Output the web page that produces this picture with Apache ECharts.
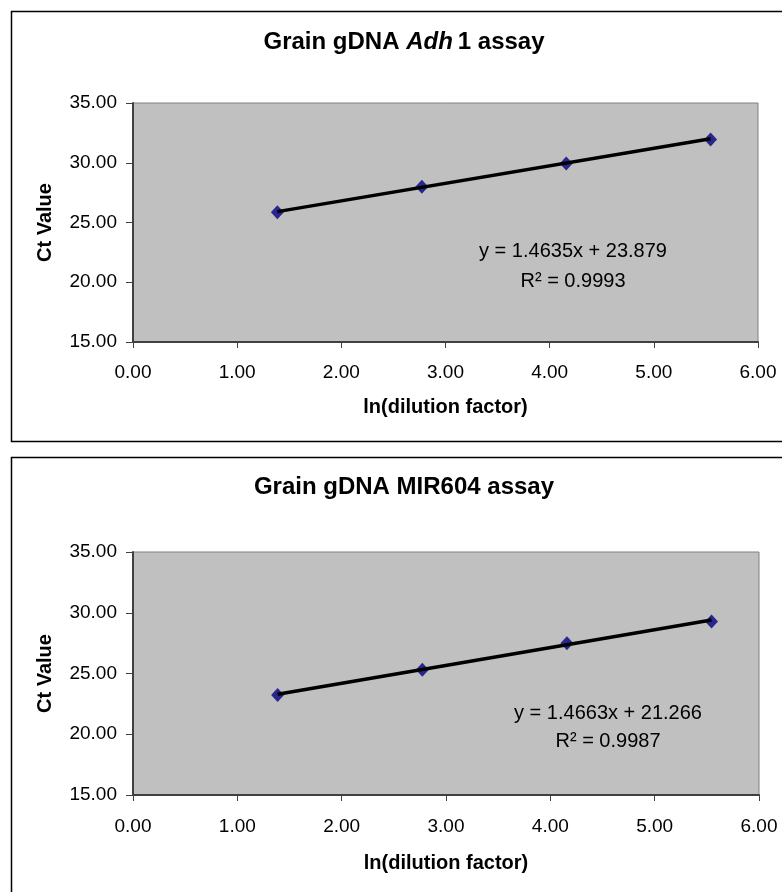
<!DOCTYPE html>
<html>
<head>
<meta charset="utf-8">
<script src="https://cdn.jsdelivr.net/npm/echarts@6/dist/echarts.min.js"></script>
<style>
  html, body { margin: 0; padding: 0; background: #fff; }
  #chart { width: 782px; height: 892px; }
</style>
</head>
<body>
<div id="chart"></div>
<script>
// ln(dilution factor) of the four dilutions
const dilutionX = [1.386, 2.773, 4.159, 5.545];
// Ct values
const adhCt = [25.85, 28.0, 29.93, 31.95];
const mirCt = [23.24, 25.3, 27.5, 29.29];
// trend line ends (first and last x)
const trendX = [1.386, 5.545];
const adhTrend = [25.91, 32.0];
const mirTrend = [23.3, 29.4];
// axis ticks
const xTicks = [0, 1, 2, 3, 4, 5, 6];
const yTicks = [15, 20, 25, 30, 35];
const titles = ["Grain gDNA ", "Grain gDNA MIR604 assay"];
const equations = [
  ["y = 1.4635x + 23.879", "R\u00b2 = 0.9993"],
  ["y = 1.4663x + 21.266", "R\u00b2 = 0.9987"]
];

const font = "Liberation Sans, Arial, sans-serif";
const myChart = echarts.init(document.getElementById("chart"));

function pairs(xs, ys) {
  return xs.map((x, i) => [x, ys[i]]);
}

function xAxisFor(idx, labelGap, nameGap) {
  return {
    gridIndex: idx,
    type: "value",
    min: xTicks[0],
    max: xTicks[xTicks.length - 1],
    interval: 1,
    name: "ln(dilution factor)",
    nameLocation: "middle",
    nameGap: nameGap,
    nameTextStyle: { fontFamily: font, fontSize: 20, fontWeight: "bold", color: "#000" },
    axisLine: { lineStyle: { color: "#404040", width: 2 } },
    axisTick: { show: true, inside: false, length: 6, lineStyle: { color: "#404040", width: 1 } },
    axisLabel: {
      fontFamily: font, fontSize: 19, color: "#000", margin: labelGap,
      formatter: v => v.toFixed(2)
    },
    splitLine: { show: false }
  };
}

function yAxisFor(idx) {
  return {
    gridIndex: idx,
    type: "value",
    min: yTicks[0],
    max: yTicks[yTicks.length - 1],
    interval: 5,
    name: "Ct Value",
    nameLocation: "middle",
    nameGap: 78,
    nameTextStyle: { fontFamily: font, fontSize: 20, fontWeight: "bold", color: "#000" },
    axisLine: { lineStyle: { color: "#404040", width: 2 } },
    axisTick: { show: true, inside: false, length: 7, lineStyle: { color: "#404040", width: 1 } },
    axisLabel: {
      fontFamily: font, fontSize: 19, color: "#000", margin: 16,
      formatter: v => v.toFixed(2)
    },
    splitLine: { show: false }
  };
}

function seriesFor(idx, ct, trend) {
  return [
    {
      type: "scatter",
      xAxisIndex: idx,
      yAxisIndex: idx,
      data: pairs(dilutionX, ct),
      symbol: "diamond",
      symbolSize: [13, 14],
      itemStyle: { color: "#000080" },
      z: 2
    },
    {
      type: "line",
      xAxisIndex: idx,
      yAxisIndex: idx,
      data: pairs(trendX, trend),
      showSymbol: false,
      symbol: "none",
      lineStyle: { color: "#000", width: 3.5 },
      z: 3
    }
  ];
}

const titleRich = {
  b: { fontFamily: font, fontSize: 24, fontWeight: "bold", fill: "#000" },
  i: { fontFamily: font, fontSize: 24, fontWeight: "bold", fontStyle: "italic", fill: "#000", padding: [0, 5, 0, 0] }
};

function eqText(x, y, text) {
  return {
    type: "text", x: x, y: y, z: 10,
    style: { text: text, fontFamily: font, fontSize: 20, fill: "#000", align: "center", verticalAlign: "middle" }
  };
}

let option = {
  animation: false,
  backgroundColor: "#fff",
  grid: [
    { left: 133, top: 103, width: 625, height: 239, show: true, backgroundColor: "#c0c0c0", borderColor: "#808080", borderWidth: 1 },
    { left: 133, top: 552, width: 626, height: 243, show: true, backgroundColor: "#c0c0c0", borderColor: "#808080", borderWidth: 1 }
  ],
  xAxis: [xAxisFor(0, 21, 55), xAxisFor(1, 22, 58)],
  yAxis: [yAxisFor(0), yAxisFor(1)],
  series: seriesFor(0, adhCt, adhTrend).concat(seriesFor(1, mirCt, mirTrend)),
  graphic: [
    { type: "rect", shape: { x: 11.5, y: 11.5, width: 800, height: 430 }, style: { fill: null, stroke: "#000", lineWidth: 1.5 }, z: -1 },
    { type: "rect", shape: { x: 11.5, y: 457.5, width: 800, height: 500 }, style: { fill: null, stroke: "#000", lineWidth: 1.5 }, z: -1 },
    {
      type: "text", x: 404, y: 42, z: 10,
      style: {
        text: "{b|" + titles[0] + "}{i|Adh}{b|1 assay}",
        rich: titleRich, align: "center", verticalAlign: "middle"
      }
    },
    {
      type: "text", x: 404, y: 487, z: 10,
      style: {
        text: titles[1], fontFamily: font, fontSize: 24, fontWeight: "bold", fill: "#000",
        align: "center", verticalAlign: "middle"
      }
    },
    eqText(573, 251, equations[0][0]),
    eqText(573, 281, equations[0][1]),
    eqText(608, 713, equations[1][0]),
    eqText(608, 741, equations[1][1])
  ]
};

myChart.setOption(option);
window.addEventListener("resize", function() {
  myChart.resize();
});
</script>
</body>
</html>
